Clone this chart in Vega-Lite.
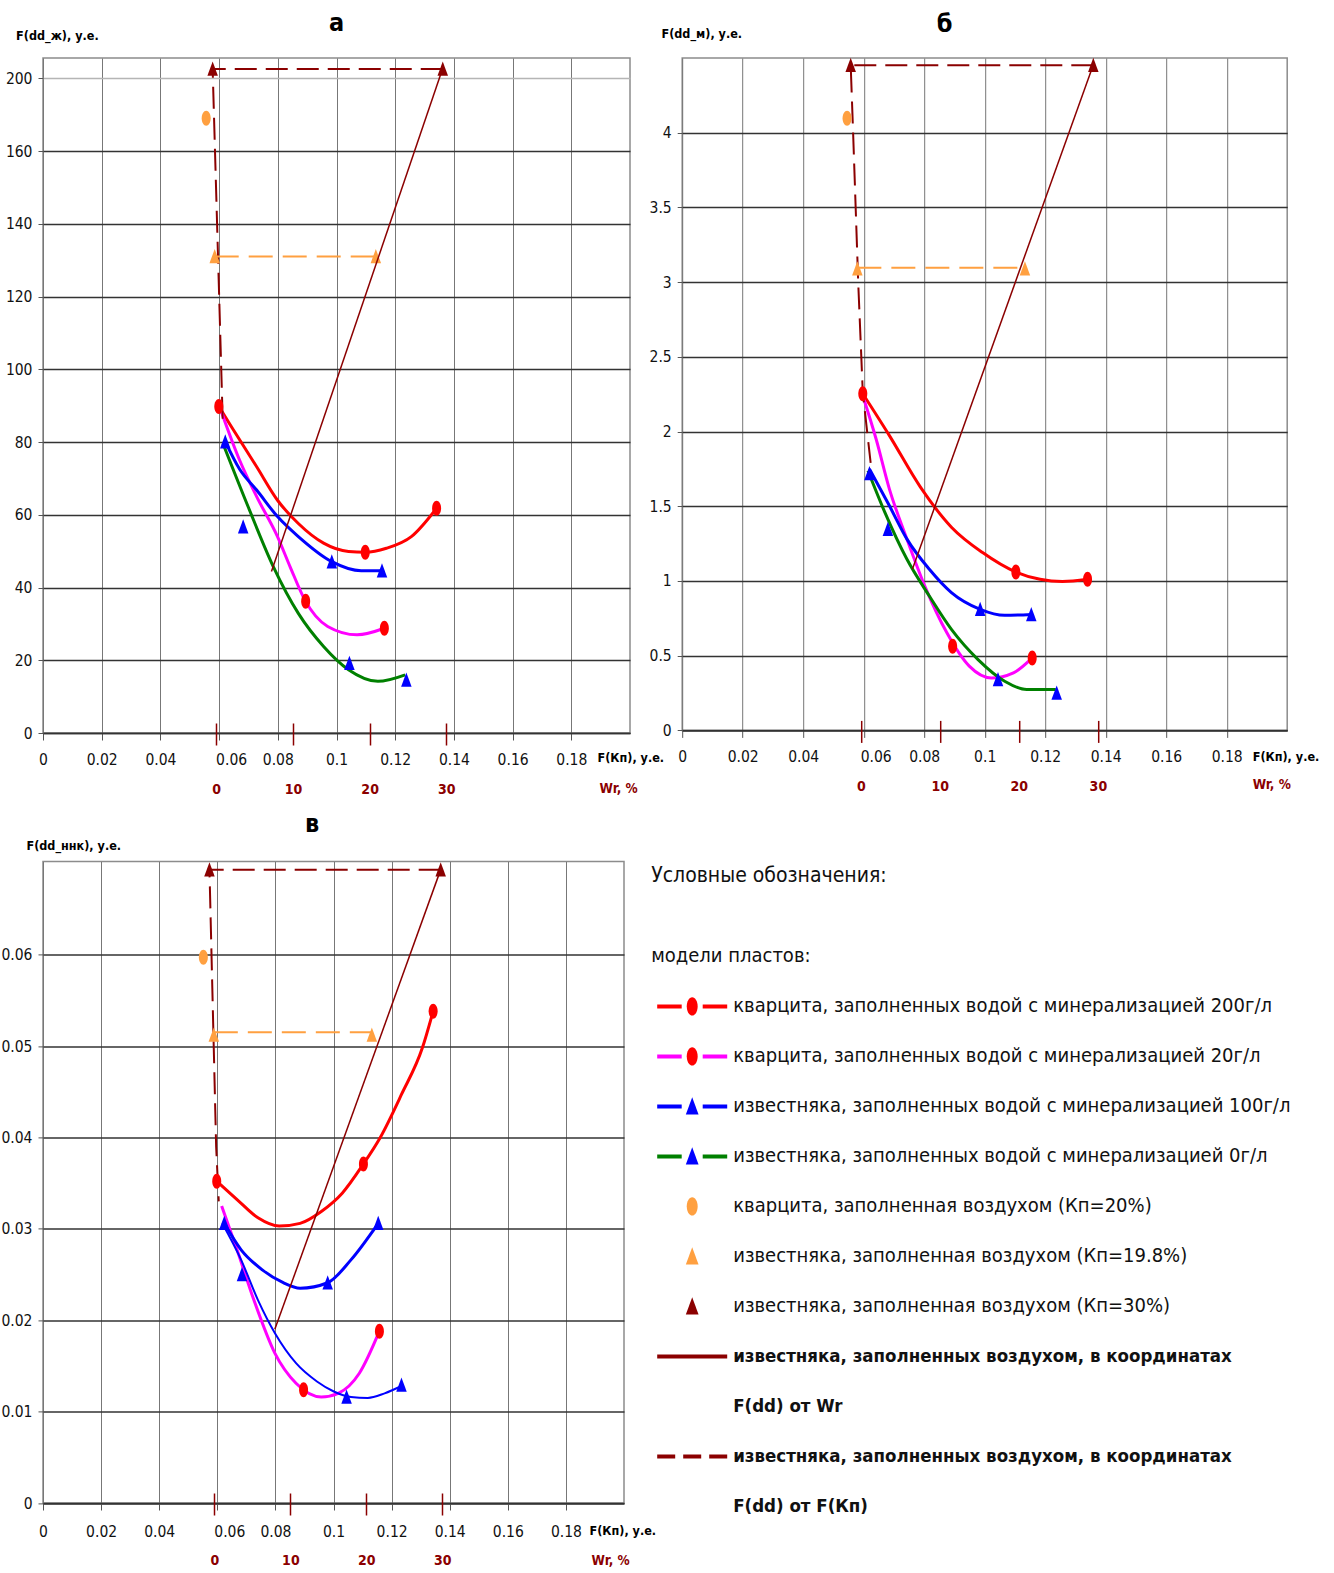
{
"$schema": "https://vega.github.io/schema/vega-lite/v6.json",
"background": "white",
"padding": {"left": 0, "top": 10, "right": 5, "bottom": 5},
"autosize": {"type": "pad"},
"columns": 2,
"bounds": "flush",
"align": "each",
"spacing": {"row": 128.4, "column": 52.2},
"config": {
  "font": "DejaVu Sans Condensed, sans-serif",
  "view": {"stroke": "#8c8c8c", "strokeWidth": 1.5},
  "legend": {"disable": true}
},
"datasets": {
  "curves": [
    {"panel":"a","series":"q200","kp":0.0599,"fdd":89.8},{"panel":"a","series":"q200","kp":0.0642,"fdd":84.2},{"panel":"a","series":"q200","kp":0.0728,"fdd":73.2},{"panel":"a","series":"q200","kp":0.0799,"fdd":64.0},{"panel":"a","series":"q200","kp":0.087,"fdd":57.6},{"panel":"a","series":"q200","kp":0.0956,"fdd":52.2},{"panel":"a","series":"q200","kp":0.1041,"fdd":49.9},{"panel":"a","series":"q200","kp":0.1098,"fdd":49.7},{"panel":"a","series":"q200","kp":0.117,"fdd":50.8},{"panel":"a","series":"q200","kp":0.1255,"fdd":54.0},{"panel":"a","series":"q200","kp":0.1341,"fdd":61.8},
    {"panel":"a","series":"q20","kp":0.0606,"fdd":88.7},{"panel":"a","series":"q20","kp":0.067,"fdd":75.0},{"panel":"a","series":"q20","kp":0.0728,"fdd":65.0},{"panel":"a","series":"q20","kp":0.0799,"fdd":54.0},{"panel":"a","series":"q20","kp":0.0842,"fdd":45.7},{"panel":"a","series":"q20","kp":0.0892,"fdd":36.6},{"panel":"a","series":"q20","kp":0.097,"fdd":29.3},{"panel":"a","series":"q20","kp":0.107,"fdd":27.0},{"panel":"a","series":"q20","kp":0.1163,"fdd":28.8},
    {"panel":"a","series":"l100","kp":0.0621,"fdd":80.1},{"panel":"a","series":"l100","kp":0.067,"fdd":72.5},{"panel":"a","series":"l100","kp":0.0728,"fdd":66.8},{"panel":"a","series":"l100","kp":0.0799,"fdd":59.5},{"panel":"a","series":"l100","kp":0.087,"fdd":54.0},{"panel":"a","series":"l100","kp":0.0984,"fdd":47.1},{"panel":"a","series":"l100","kp":0.1084,"fdd":44.6},{"panel":"a","series":"l100","kp":0.1155,"fdd":44.6},
    {"panel":"a","series":"l0","kp":0.0613,"fdd":79.6},{"panel":"a","series":"l0","kp":0.0699,"fdd":62.2},{"panel":"a","series":"l0","kp":0.0785,"fdd":45.7},{"panel":"a","series":"l0","kp":0.087,"fdd":32.9},{"panel":"a","series":"l0","kp":0.0956,"fdd":23.8},{"panel":"a","series":"l0","kp":0.1041,"fdd":17.4},{"panel":"a","series":"l0","kp":0.1141,"fdd":14.2},{"panel":"a","series":"l0","kp":0.1234,"fdd":16.0},
    {"panel":"b","series":"q200","kp":0.0597,"fdd":2.253},{"panel":"b","series":"q200","kp":0.0685,"fdd":1.973},{"panel":"b","series":"q200","kp":0.0787,"fdd":1.63},{"panel":"b","series":"q200","kp":0.089,"fdd":1.36},{"panel":"b","series":"q200","kp":0.0993,"fdd":1.19},{"panel":"b","series":"q200","kp":0.1103,"fdd":1.06},{"panel":"b","series":"q200","kp":0.1183,"fdd":1.011},{"panel":"b","series":"q200","kp":0.1257,"fdd":0.996},{"panel":"b","series":"q200","kp":0.134,"fdd":1.011},
    {"panel":"b","series":"q20","kp":0.0597,"fdd":2.24},{"panel":"b","series":"q20","kp":0.0641,"fdd":1.95},{"panel":"b","series":"q20","kp":0.0685,"fdd":1.615},{"panel":"b","series":"q20","kp":0.0743,"fdd":1.28},{"panel":"b","series":"q20","kp":0.0802,"fdd":0.966},{"panel":"b","series":"q20","kp":0.0875,"fdd":0.653},{"panel":"b","series":"q20","kp":0.0949,"fdd":0.43},{"panel":"b","series":"q20","kp":0.1022,"fdd":0.351},{"panel":"b","series":"q20","kp":0.1095,"fdd":0.385},{"panel":"b","series":"q20","kp":0.1157,"fdd":0.485},
    {"panel":"b","series":"l100","kp":0.0619,"fdd":1.749},{"panel":"b","series":"l100","kp":0.0685,"fdd":1.503},{"panel":"b","series":"l100","kp":0.0743,"fdd":1.28},{"panel":"b","series":"l100","kp":0.0817,"fdd":1.078},{"panel":"b","series":"l100","kp":0.089,"fdd":0.922},{"panel":"b","series":"l100","kp":0.0985,"fdd":0.81},{"panel":"b","series":"l100","kp":0.1066,"fdd":0.77},{"panel":"b","series":"l100","kp":0.1154,"fdd":0.776},
    {"panel":"b","series":"l0","kp":0.0614,"fdd":1.738},{"panel":"b","series":"l0","kp":0.067,"fdd":1.459},{"panel":"b","series":"l0","kp":0.0743,"fdd":1.145},{"panel":"b","series":"l0","kp":0.0817,"fdd":0.899},{"panel":"b","series":"l0","kp":0.089,"fdd":0.676},{"panel":"b","series":"l0","kp":0.0978,"fdd":0.474},{"panel":"b","series":"l0","kp":0.1066,"fdd":0.329},{"panel":"b","series":"l0","kp":0.1139,"fdd":0.273},{"panel":"b","series":"l0","kp":0.1235,"fdd":0.273},
    {"panel":"c","series":"q200","kp":0.0598,"fdd":0.0352},{"panel":"c","series":"q200","kp":0.0668,"fdd":0.0332},{"panel":"c","series":"q200","kp":0.074,"fdd":0.0312},{"panel":"c","series":"q200","kp":0.0813,"fdd":0.0303},{"panel":"c","series":"q200","kp":0.0885,"fdd":0.0306},{"panel":"c","series":"q200","kp":0.0958,"fdd":0.0319},{"panel":"c","series":"q200","kp":0.103,"fdd":0.0339},{"panel":"c","series":"q200","kp":0.1103,"fdd":0.0371},{"panel":"c","series":"q200","kp":0.1161,"fdd":0.04},{"panel":"c","series":"q200","kp":0.1234,"fdd":0.0447},{"panel":"c","series":"q200","kp":0.1306,"fdd":0.0498},{"panel":"c","series":"q200","kp":0.1343,"fdd":0.0538},
    {"panel":"c","series":"q20","kp":0.0615,"fdd":0.0325},{"panel":"c","series":"q20","kp":0.0668,"fdd":0.0277},{"panel":"c","series":"q20","kp":0.0726,"fdd":0.0222},{"panel":"c","series":"q20","kp":0.0798,"fdd":0.0164},{"panel":"c","series":"q20","kp":0.0871,"fdd":0.0131},{"panel":"c","series":"q20","kp":0.0958,"fdd":0.0116},{"panel":"c","series":"q20","kp":0.1016,"fdd":0.012},{"panel":"c","series":"q20","kp":0.1089,"fdd":0.0142},{"panel":"c","series":"q20","kp":0.1158,"fdd":0.0188},
    {"panel":"c","series":"l100","kp":0.0624,"fdd":0.0306},{"panel":"c","series":"l100","kp":0.0682,"fdd":0.0277},{"panel":"c","series":"l100","kp":0.0755,"fdd":0.0255},{"panel":"c","series":"l100","kp":0.0827,"fdd":0.0241},{"panel":"c","series":"l100","kp":0.0885,"fdd":0.0235},{"panel":"c","series":"l100","kp":0.098,"fdd":0.0241},{"panel":"c","series":"l100","kp":0.106,"fdd":0.0266},{"panel":"c","series":"l100","kp":0.1154,"fdd":0.0306},
    {"panel":"c","series":"l0","kp":0.0617,"fdd":0.0306},{"panel":"c","series":"l0","kp":0.0682,"fdd":0.0266},{"panel":"c","series":"l0","kp":0.074,"fdd":0.0222},{"panel":"c","series":"l0","kp":0.0798,"fdd":0.0186},{"panel":"c","series":"l0","kp":0.0871,"fdd":0.0153},{"panel":"c","series":"l0","kp":0.0943,"fdd":0.0133},{"panel":"c","series":"l0","kp":0.1001,"fdd":0.0122},{"panel":"c","series":"l0","kp":0.106,"fdd":0.0116},{"panel":"c","series":"l0","kp":0.1118,"fdd":0.0115},{"panel":"c","series":"l0","kp":0.1176,"fdd":0.012},{"panel":"c","series":"l0","kp":0.1234,"fdd":0.0128}
  ],
  "markers": [
    {"panel":"a","series":"q200","kp":0.0599,"fdd":89.8},{"panel":"a","series":"q200","kp":0.1098,"fdd":49.7},{"panel":"a","series":"q200","kp":0.1341,"fdd":61.8},
    {"panel":"a","series":"q20","kp":0.0895,"fdd":36.2},{"panel":"a","series":"q20","kp":0.1163,"fdd":28.8},
    {"panel":"a","series":"l100","kp":0.0621,"fdd":80.1},{"panel":"a","series":"l100","kp":0.0984,"fdd":47.1},{"panel":"a","series":"l100","kp":0.1155,"fdd":44.6},
    {"panel":"a","series":"l0","kp":0.0682,"fdd":56.7},{"panel":"a","series":"l0","kp":0.1044,"fdd":19.2},{"panel":"a","series":"l0","kp":0.1238,"fdd":14.6},
    {"panel":"a","series":"qair","kp":0.0556,"fdd":169.0},
    {"panel":"a","series":"lair198","kp":0.0585,"fdd":131},{"panel":"a","series":"lair198","kp":0.1134,"fdd":131},
    {"panel":"a","series":"lair30","kp":0.0578,"fdd":182.6},{"panel":"a","series":"lair30","kp":0.1362,"fdd":182.6},
    {"panel":"b","series":"q200","kp":0.0597,"fdd":2.253},{"panel":"b","series":"q200","kp":0.1103,"fdd":1.06},{"panel":"b","series":"q200","kp":0.134,"fdd":1.011},
    {"panel":"b","series":"q20","kp":0.0894,"fdd":0.564},{"panel":"b","series":"q20","kp":0.1157,"fdd":0.485},
    {"panel":"b","series":"l100","kp":0.0619,"fdd":1.72},{"panel":"b","series":"l100","kp":0.0985,"fdd":0.81},{"panel":"b","series":"l100","kp":0.1154,"fdd":0.776},
    {"panel":"b","series":"l0","kp":0.068,"fdd":1.347},{"panel":"b","series":"l0","kp":0.1044,"fdd":0.34},{"panel":"b","series":"l0","kp":0.1238,"fdd":0.25},
    {"panel":"b","series":"qair","kp":0.0545,"fdd":4.096},
    {"panel":"b","series":"lair198","kp":0.0579,"fdd":3.09},{"panel":"b","series":"lair198","kp":0.1133,"fdd":3.09},
    {"panel":"b","series":"lair30","kp":0.0557,"fdd":4.452},{"panel":"b","series":"lair30","kp":0.1359,"fdd":4.452},
    {"panel":"c","series":"q200","kp":0.0598,"fdd":0.0352},{"panel":"c","series":"q200","kp":0.1103,"fdd":0.0371},{"panel":"c","series":"q200","kp":0.1343,"fdd":0.0538},
    {"panel":"c","series":"q20","kp":0.0897,"fdd":0.0124},{"panel":"c","series":"q20","kp":0.1158,"fdd":0.0188},
    {"panel":"c","series":"l100","kp":0.0624,"fdd":0.0306},{"panel":"c","series":"l100","kp":0.098,"fdd":0.0241},{"panel":"c","series":"l100","kp":0.1154,"fdd":0.0306},
    {"panel":"c","series":"l0","kp":0.0685,"fdd":0.025},{"panel":"c","series":"l0","kp":0.1045,"fdd":0.0116},{"panel":"c","series":"l0","kp":0.1234,"fdd":0.0129},
    {"panel":"c","series":"qair","kp":0.0552,"fdd":0.0597},
    {"panel":"c","series":"lair198","kp":0.0588,"fdd":0.0512},{"panel":"c","series":"lair198","kp":0.1132,"fdd":0.0512},
    {"panel":"c","series":"lair30","kp":0.0573,"fdd":0.0693},{"panel":"c","series":"lair30","kp":0.1369,"fdd":0.0693}
  ],
  "paths": [
    {"panel":"a","series":"fkline","n":1,"kp":0.1362,"fdd":182.6},{"panel":"a","series":"fkline","n":2,"kp":0.0578,"fdd":182.6},{"panel":"a","series":"fkline","n":3,"kp":0.0613,"fdd":84.0},
    {"panel":"a","series":"lair198","n":1,"kp":0.0585,"fdd":131},{"panel":"a","series":"lair198","n":2,"kp":0.1134,"fdd":131},
    {"panel":"b","series":"fkline","n":1,"kp":0.1359,"fdd":4.452},{"panel":"b","series":"fkline","n":2,"kp":0.0557,"fdd":4.452},{"panel":"b","series":"fkline","n":3,"kp":0.0565,"fdd":4.0},{"panel":"b","series":"fkline","n":4,"kp":0.0582,"fdd":2.99},{"panel":"b","series":"fkline","n":5,"kp":0.0597,"fdd":2.26},{"panel":"b","series":"fkline","n":6,"kp":0.0623,"fdd":1.79},
    {"panel":"b","series":"lair198","n":1,"kp":0.0579,"fdd":3.097},{"panel":"b","series":"lair198","n":2,"kp":0.1133,"fdd":3.097},
    {"panel":"c","series":"fkline","n":1,"kp":0.1369,"fdd":0.0693},{"panel":"c","series":"fkline","n":2,"kp":0.0573,"fdd":0.0693},{"panel":"c","series":"fkline","n":3,"kp":0.0596,"fdd":0.039},{"panel":"c","series":"fkline","n":4,"kp":0.0605,"fdd":0.033},
    {"panel":"c","series":"lair198","n":1,"kp":0.0588,"fdd":0.0515},{"panel":"c","series":"lair198","n":2,"kp":0.1132,"fdd":0.0515}
  ],
  "wr": [
    {"panel":"a","wr":7.2,"fdd":44.4},{"panel":"a","wr":29.5,"fdd":182.6},
    {"panel":"b","wr":6.53,"fdd":1.078},{"panel":"b","wr":29.4,"fdd":4.452},
    {"panel":"c","wr":7.95,"fdd":0.019},{"panel":"c","wr":29.8,"fdd":0.0693}
  ],
  "legend": [
    {"row":1,"col":"head","text":"модели пластов:"},
    {"row":2,"col":"txt","text":"кварцита, заполненных водой с минерализацией 200г/л","series":"q200"},
    {"row":3,"col":"txt","text":"кварцита, заполненных водой с минерализацией 20г/л","series":"q20"},
    {"row":4,"col":"txt","text":"известняка, заполненных водой с минерализацией 100г/л","series":"l100"},
    {"row":5,"col":"txt","text":"известняка, заполненных водой с минерализацией 0г/л","series":"l0"},
    {"row":6,"col":"txt","text":"кварцита, заполненная воздухом (Кп=20%)","series":"qair"},
    {"row":7,"col":"txt","text":"известняка, заполненная воздухом (Кп=19.8%)","series":"lair198"},
    {"row":8,"col":"txt","text":"известняка, заполненная воздухом (Кп=30%)","series":"lair30"},
    {"row":9,"col":"txt","text":"известняка, заполненных воздухом, в координатах","series":"wrline"},
    {"row":10,"col":"txt","text":"F(dd) от Wr"},
    {"row":11,"col":"txt","text":"известняка, заполненных воздухом, в координатах","series":"fkline"},
    {"row":12,"col":"txt","text":"F(dd) от F(Кп)"}
  ]
},
"concat": [
  {
    "width": 587, "height": 675,
    "title": {"text": "а", "fontSize": 25, "fontWeight": "bold", "color": "#000000", "baseline": "alphabetic", "offset": 0, "dy": 27.4, "dx": 0},
    "layer": [
      {
        "encoding": {
          "x": {"field": "kp", "type": "quantitative", "scale": {"domain": [0, 0.2], "nice": false, "zero": false},
            "axis": {"title": "F(Кп), у.е.", "values": [0,0.02,0.04,0.06,0.08,0.1,0.12,0.14,0.16,0.18], "format": "~g", "grid": true, "gridColor": "#777777", "gridWidth": 1, "domainColor": "#333333", "domainWidth": 1.5, "tickColor": "#555555", "tickSize": 7, "labelFontSize": 15.5, "labelColor": "#111111", "labelPadding": 12, "labelOffset": {"condition": {"test": "abs(datum.value - 0.06) < 0.001", "value": 12}, "value": 0}, "labelFlush": false, "labelOverlap": false, "titleFontSize": 12.5, "titleFontWeight": "bold", "titleColor": "#000000", "titleAlign": "left", "titleBaseline": "middle", "titleX": 554, "titleY": 24}},
          "y": {"field": "fdd", "type": "quantitative", "scale": {"domain": [0, 185.6], "nice": false, "zero": false},
            "axis": {"title": "F(dd_ж), у.е.", "values": [0,20,40,60,80,100,120,140,160,180], "labelExpr": "datum.value == 180 ? '200' : datum.label", "grid": true, "gridColor": {"condition": {"test": "datum.value == 180", "value": "#b5b5b5"}, "value": "#333333"}, "gridWidth": 1.5, "domain": false, "tickColor": "#555555", "tickSize": 5, "labelFontSize": 15.5, "labelColor": "#111111", "labelPadding": 6, "labelOverlap": false, "labelFlush": false, "titleFontSize": 12.5, "titleFontWeight": "bold", "titleColor": "#000000", "titleAngle": 0, "titleAlign": "left", "titleBaseline": "alphabetic", "titleX": -27.4, "titleY": -19}}
        },
        "layer": [
          {"data": {"name": "curves"}, "transform": [{"filter": "datum.panel == 'a'"}],
           "mark": {"type": "line", "interpolate": "monotone", "strokeWidth": 3},
           "encoding": {"stroke": {"field": "series", "type": "nominal", "scale": {"domain": ["q200","q20","l100","l0"], "range": ["#ff0000","#ff00ff","#0000ff","#008000"]}, "legend": null}}},
          {"data": {"name": "paths"}, "transform": [{"filter": "datum.panel == 'a' && datum.series == 'fkline'"}],
           "mark": {"type": "line", "stroke": "#8b0000", "strokeWidth": 2, "strokeDash": [22, 9]},
           "encoding": {"order": {"field": "n", "type": "quantitative"}}},
          {"data": {"name": "paths"}, "transform": [{"filter": "datum.panel == 'a' && datum.series == 'lair198'"}],
           "mark": {"type": "line", "stroke": "#ffa040", "strokeWidth": 2, "strokeDash": [24, 10]},
           "encoding": {"order": {"field": "n", "type": "quantitative"}}},
          {"data": {"name": "markers"}, "transform": [{"filter": "datum.panel == 'a'"}],
           "mark": {"type": "point", "filled": true, "size": 225, "opacity": 1},
           "encoding": {
             "shape": {"field": "series", "type": "nominal", "scale": {"domain": ["q200","q20","l100","l0","qair","lair198","lair30"], "range": ["M0,-1A0.6,1,0,1,1,0,1A0.6,1,0,1,1,0,-1Z","M0,-1A0.6,1,0,1,1,0,1A0.6,1,0,1,1,0,-1Z","M0,-1L0.7,0.9L-0.7,0.9Z","M0,-1L0.7,0.9L-0.7,0.9Z","M0,-1A0.6,1,0,1,1,0,1A0.6,1,0,1,1,0,-1Z","M0,-1L0.7,0.9L-0.7,0.9Z","M0,-1L0.7,0.9L-0.7,0.9Z"]}, "legend": null},
             "fill": {"field": "series", "type": "nominal", "scale": {"domain": ["q200","q20","l100","l0","qair","lair198","lair30"], "range": ["#ff0000","#ff0000","#0000ff","#0000ff","#ffa040","#ffa040","#8b0000"]}, "legend": null}
           }}
        ]
      },
      {"data": {"name": "wr"}, "transform": [{"filter": "datum.panel == 'a'"}],
       "mark": {"type": "line", "stroke": "#8b0000", "strokeWidth": 1.5},
       "encoding": {
         "x": {"field": "wr", "type": "quantitative", "scale": {"domain": [-22.59, 53.95], "nice": false, "zero": false},
           "axis": {"title": "Wr, %", "values": [0,10,20,30], "format": "d", "orient": "bottom", "offset": -10, "domain": false, "grid": false, "tickColor": "#8b0000", "tickWidth": 1.5, "tickSize": 22, "labelColor": "#8b0000", "labelFontWeight": "bold", "labelFontSize": 14, "labelPadding": 37, "labelFlush": false, "labelOverlap": false, "titleColor": "#8b0000", "titleFontWeight": "bold", "titleFontSize": 13.5, "titleAlign": "left", "titleBaseline": "middle", "titleX": 556, "titleY": 65}},
         "y": {"field": "fdd", "type": "quantitative", "scale": {"domain": [0, 185.6], "nice": false, "zero": false}, "axis": null}
       }}
    ],
    "resolve": {"scale": {"x": "independent"}, "axis": {"x": "independent", "y": "independent"}}
  },
  {
    "width": 605, "height": 672.4,
    "title": {"text": "б", "fontSize": 25, "fontWeight": "bold", "color": "#000000", "baseline": "alphabetic", "offset": 0, "dy": 29.8, "dx": -40},
    "layer": [
      {
        "encoding": {
          "x": {"field": "kp", "type": "quantitative", "scale": {"domain": [0, 0.2], "nice": false, "zero": false},
            "axis": {"title": "F(Кп), у.е.", "values": [0,0.02,0.04,0.06,0.08,0.1,0.12,0.14,0.16,0.18], "format": "~g", "grid": true, "gridColor": "#777777", "gridWidth": 1, "domainColor": "#333333", "domainWidth": 1.5, "tickColor": "#555555", "tickSize": 7, "labelFontSize": 15.5, "labelColor": "#111111", "labelPadding": 12, "labelOffset": {"condition": {"test": "abs(datum.value - 0.06) < 0.001", "value": 12}, "value": 0}, "labelFlush": false, "labelOverlap": false, "titleFontSize": 12.5, "titleFontWeight": "bold", "titleColor": "#000000", "titleAlign": "left", "titleBaseline": "middle", "titleX": 570, "titleY": 26}},
          "y": {"field": "fdd", "type": "quantitative", "scale": {"domain": [0, 4.5], "nice": false, "zero": false},
            "axis": {"title": "F(dd_м), у.е.", "values": [0,0.5,1,1.5,2,2.5,3,3.5,4], "format": "~g", "grid": true, "gridColor": "#333333", "gridWidth": 1.5, "domain": false, "tickColor": "#555555", "tickSize": 5, "labelFontSize": 15.5, "labelColor": "#111111", "labelPadding": 6, "labelOverlap": false, "labelFlush": false, "titleFontSize": 12.5, "titleFontWeight": "bold", "titleColor": "#000000", "titleAngle": 0, "titleAlign": "left", "titleBaseline": "alphabetic", "titleX": -21.2, "titleY": -21}}
        },
        "layer": [
          {"data": {"name": "curves"}, "transform": [{"filter": "datum.panel == 'b'"}],
           "mark": {"type": "line", "interpolate": "monotone", "strokeWidth": 3},
           "encoding": {"stroke": {"field": "series", "type": "nominal", "scale": {"domain": ["q200","q20","l100","l0"], "range": ["#ff0000","#ff00ff","#0000ff","#008000"]}, "legend": null}}},
          {"data": {"name": "paths"}, "transform": [{"filter": "datum.panel == 'b' && datum.series == 'fkline'"}],
           "mark": {"type": "line", "stroke": "#8b0000", "strokeWidth": 2, "strokeDash": [22, 9]},
           "encoding": {"order": {"field": "n", "type": "quantitative"}}},
          {"data": {"name": "paths"}, "transform": [{"filter": "datum.panel == 'b' && datum.series == 'lair198'"}],
           "mark": {"type": "line", "stroke": "#ffa040", "strokeWidth": 2, "strokeDash": [24, 10]},
           "encoding": {"order": {"field": "n", "type": "quantitative"}}},
          {"data": {"name": "markers"}, "transform": [{"filter": "datum.panel == 'b'"}],
           "mark": {"type": "point", "filled": true, "size": 225, "opacity": 1},
           "encoding": {
             "shape": {"field": "series", "type": "nominal", "scale": {"domain": ["q200","q20","l100","l0","qair","lair198","lair30"], "range": ["M0,-1A0.6,1,0,1,1,0,1A0.6,1,0,1,1,0,-1Z","M0,-1A0.6,1,0,1,1,0,1A0.6,1,0,1,1,0,-1Z","M0,-1L0.7,0.9L-0.7,0.9Z","M0,-1L0.7,0.9L-0.7,0.9Z","M0,-1A0.6,1,0,1,1,0,1A0.6,1,0,1,1,0,-1Z","M0,-1L0.7,0.9L-0.7,0.9Z","M0,-1L0.7,0.9L-0.7,0.9Z"]}, "legend": null},
             "fill": {"field": "series", "type": "nominal", "scale": {"domain": ["q200","q20","l100","l0","qair","lair198","lair30"], "range": ["#ff0000","#ff0000","#0000ff","#0000ff","#ffa040","#ffa040","#8b0000"]}, "legend": null}
           }}
        ]
      },
      {"data": {"name": "wr"}, "transform": [{"filter": "datum.panel == 'b'"}],
       "mark": {"type": "line", "stroke": "#8b0000", "strokeWidth": 1.5},
       "encoding": {
         "x": {"field": "wr", "type": "quantitative", "scale": {"domain": [-22.59, 53.95], "nice": false, "zero": false},
           "axis": {"title": "Wr, %", "values": [0,10,20,30], "format": "d", "orient": "bottom", "offset": -10, "domain": false, "grid": false, "tickColor": "#8b0000", "tickWidth": 1.5, "tickSize": 22, "labelColor": "#8b0000", "labelFontWeight": "bold", "labelFontSize": 14, "labelPadding": 37, "labelFlush": false, "labelOverlap": false, "titleColor": "#8b0000", "titleFontWeight": "bold", "titleFontSize": 13.5, "titleAlign": "left", "titleBaseline": "middle", "titleX": 570, "titleY": 64}},
         "y": {"field": "fdd", "type": "quantitative", "scale": {"domain": [0, 4.5], "nice": false, "zero": false}, "axis": null}
       }}
    ],
    "resolve": {"scale": {"x": "independent"}, "axis": {"x": "independent", "y": "independent"}}
  },
  {
    "width": 581, "height": 641.6,
    "title": {"text": "в", "fontSize": 25, "fontWeight": "bold", "color": "#000000", "baseline": "alphabetic", "offset": 0, "dy": 17.6, "dx": -21.5},
    "layer": [
      {
        "encoding": {
          "x": {"field": "kp", "type": "quantitative", "scale": {"domain": [0, 0.2], "nice": false, "zero": false},
            "axis": {"title": "F(Кп), у.е.", "values": [0,0.02,0.04,0.06,0.08,0.1,0.12,0.14,0.16,0.18], "format": "~g", "grid": true, "gridColor": "#777777", "gridWidth": 1, "domainColor": "#333333", "domainWidth": 1.5, "tickColor": "#555555", "tickSize": 7, "labelFontSize": 15.5, "labelColor": "#111111", "labelPadding": 14, "labelOffset": {"condition": {"test": "abs(datum.value - 0.06) < 0.001", "value": 12}, "value": 0}, "labelFlush": false, "labelOverlap": false, "titleFontSize": 12.5, "titleFontWeight": "bold", "titleColor": "#000000", "titleAlign": "left", "titleBaseline": "middle", "titleX": 546, "titleY": 27}},
          "y": {"field": "fdd", "type": "quantitative", "scale": {"domain": [0, 0.0702], "nice": false, "zero": false},
            "axis": {"title": "F(dd_ннк), у.е.", "values": [0,0.01,0.02,0.03,0.04,0.05,0.06], "format": "~g", "grid": true, "gridColor": "#333333", "gridWidth": 1.5, "domain": false, "tickColor": "#555555", "tickSize": 5, "labelFontSize": 15.5, "labelColor": "#111111", "labelPadding": 6, "labelOverlap": false, "labelFlush": false, "titleFontSize": 12.5, "titleFontWeight": "bold", "titleColor": "#000000", "titleAngle": 0, "titleAlign": "left", "titleBaseline": "alphabetic", "titleX": -17, "titleY": -12}}
        },
        "layer": [
          {"data": {"name": "curves"}, "transform": [{"filter": "datum.panel == 'c' && datum.series != 'l0'"}],
           "mark": {"type": "line", "interpolate": "monotone", "strokeWidth": 3},
           "encoding": {"stroke": {"field": "series", "type": "nominal", "scale": {"domain": ["q200","q20","l100","l0"], "range": ["#ff0000","#ff00ff","#0000ff","#008000"]}, "legend": null}}},
          {"data": {"name": "curves"}, "transform": [{"filter": "datum.panel == 'c' && datum.series == 'l0'"}],
           "mark": {"type": "line", "interpolate": "monotone", "strokeWidth": 2, "stroke": "#0000ff"}},
          {"data": {"name": "paths"}, "transform": [{"filter": "datum.panel == 'c' && datum.series == 'fkline'"}],
           "mark": {"type": "line", "stroke": "#8b0000", "strokeWidth": 2, "strokeDash": [22, 9]},
           "encoding": {"order": {"field": "n", "type": "quantitative"}}},
          {"data": {"name": "paths"}, "transform": [{"filter": "datum.panel == 'c' && datum.series == 'lair198'"}],
           "mark": {"type": "line", "stroke": "#ffa040", "strokeWidth": 2, "strokeDash": [24, 10]},
           "encoding": {"order": {"field": "n", "type": "quantitative"}}},
          {"data": {"name": "markers"}, "transform": [{"filter": "datum.panel == 'c'"}],
           "mark": {"type": "point", "filled": true, "size": 225, "opacity": 1},
           "encoding": {
             "shape": {"field": "series", "type": "nominal", "scale": {"domain": ["q200","q20","l100","l0","qair","lair198","lair30"], "range": ["M0,-1A0.6,1,0,1,1,0,1A0.6,1,0,1,1,0,-1Z","M0,-1A0.6,1,0,1,1,0,1A0.6,1,0,1,1,0,-1Z","M0,-1L0.7,0.9L-0.7,0.9Z","M0,-1L0.7,0.9L-0.7,0.9Z","M0,-1A0.6,1,0,1,1,0,1A0.6,1,0,1,1,0,-1Z","M0,-1L0.7,0.9L-0.7,0.9Z","M0,-1L0.7,0.9L-0.7,0.9Z"]}, "legend": null},
             "fill": {"field": "series", "type": "nominal", "scale": {"domain": ["q200","q20","l100","l0","qair","lair198","lair30"], "range": ["#ff0000","#ff0000","#0000ff","#0000ff","#ffa040","#ffa040","#8b0000"]}, "legend": null}
           }}
        ]
      },
      {"data": {"name": "wr"}, "transform": [{"filter": "datum.panel == 'c'"}],
       "mark": {"type": "line", "stroke": "#8b0000", "strokeWidth": 1.5},
       "encoding": {
         "x": {"field": "wr", "type": "quantitative", "scale": {"domain": [-22.59, 53.95], "nice": false, "zero": false},
           "axis": {"title": "Wr, %", "values": [0,10,20,30], "format": "d", "orient": "bottom", "offset": -10, "domain": false, "grid": false, "tickColor": "#8b0000", "tickWidth": 1.5, "tickSize": 22, "labelColor": "#8b0000", "labelFontWeight": "bold", "labelFontSize": 14, "labelPadding": 38, "labelFlush": false, "labelOverlap": false, "titleColor": "#8b0000", "titleFontWeight": "bold", "titleFontSize": 13.5, "titleAlign": "left", "titleBaseline": "middle", "titleX": 548, "titleY": 67}},
         "y": {"field": "fdd", "type": "quantitative", "scale": {"domain": [0, 0.0702], "nice": false, "zero": false}, "axis": null}
       }}
    ],
    "resolve": {"scale": {"x": "independent"}, "axis": {"x": "independent", "y": "independent"}}
  },
  {
    "width": 605, "height": 645,
    "view": {"stroke": null},
    "title": {"text": "Условные обозначения:", "anchor": "start", "frame": "group", "dx": -31, "dy": 23, "offset": -13, "baseline": "middle", "fontSize": 21, "fontWeight": "normal", "color": "#111111"},
    "data": {"name": "legend"},
    "encoding": {
      "y": {"field": "row", "type": "ordinal", "scale": {"type": "point", "domain": [1,2,3,4,5,6,7,8,9,10,11,12], "range": [95, 645], "padding": 0}, "axis": null}
    },
    "layer": [
      {"transform": [{"filter": "datum.row <= 8"}],
       "mark": {"type": "text", "align": "left", "baseline": "middle", "fontSize": 20, "color": "#111111"},
       "encoding": {"x": {"field": "col", "type": "nominal", "scale": {"type": "point", "domain": ["head","sym","txt"], "range": [-31, 51], "padding": 0}, "axis": null}, "text": {"field": "text"}}},
      {"transform": [{"filter": "datum.row >= 9"}],
       "mark": {"type": "text", "align": "left", "baseline": "middle", "fontSize": 18.5, "fontWeight": "bold", "color": "#111111"},
       "encoding": {"x": {"field": "col", "type": "nominal", "scale": {"type": "point", "domain": ["head","sym","txt"], "range": [-31, 51], "padding": 0}, "axis": null}, "text": {"field": "text"}}},
      {"transform": [{"filter": "indexof(['q200','q20','l100','l0'], datum.series) >= 0"}],
       "mark": {"type": "point", "shape": "M-1,0H-0.3M0.3,0H1", "size": 4900, "filled": false, "strokeWidth": 4, "opacity": 1},
       "encoding": {"x": {"datum": "sym", "type": "nominal", "scale": {"type": "point", "domain": ["head","sym","txt"], "range": [-31, 51], "padding": 0}, "axis": null},
         "stroke": {"field": "series", "type": "nominal", "scale": {"domain": ["q200","q20","l100","l0"], "range": ["#ff0000","#ff00ff","#0000ff","#008000"]}, "legend": null}}},
      {"transform": [{"filter": "datum.series == 'wrline'"}],
       "mark": {"type": "point", "shape": "M-1,0H1", "size": 4900, "filled": false, "stroke": "#8b0000", "strokeWidth": 4, "opacity": 1},
       "encoding": {"x": {"datum": "sym", "type": "nominal", "scale": {"type": "point", "domain": ["head","sym","txt"], "range": [-31, 51], "padding": 0}, "axis": null}}},
      {"transform": [{"filter": "datum.series == 'fkline'"}],
       "mark": {"type": "point", "shape": "M-1,0H1", "size": 4900, "filled": false, "stroke": "#8b0000", "strokeWidth": 4, "strokeDash": [18, 8], "opacity": 1},
       "encoding": {"x": {"datum": "sym", "type": "nominal", "scale": {"type": "point", "domain": ["head","sym","txt"], "range": [-31, 51], "padding": 0}, "axis": null}}},
      {"transform": [{"filter": "indexof(['q200','q20','l100','l0','qair','lair198','lair30'], datum.series) >= 0"}],
       "mark": {"type": "point", "filled": true, "size": 330, "opacity": 1},
       "encoding": {"x": {"datum": "sym", "type": "nominal", "scale": {"type": "point", "domain": ["head","sym","txt"], "range": [-31, 51], "padding": 0}, "axis": null},
         "shape": {"field": "series", "type": "nominal", "scale": {"domain": ["q200","q20","l100","l0","qair","lair198","lair30"], "range": ["M0,-1A0.6,1,0,1,1,0,1A0.6,1,0,1,1,0,-1Z","M0,-1A0.6,1,0,1,1,0,1A0.6,1,0,1,1,0,-1Z","M0,-1L0.7,0.9L-0.7,0.9Z","M0,-1L0.7,0.9L-0.7,0.9Z","M0,-1A0.6,1,0,1,1,0,1A0.6,1,0,1,1,0,-1Z","M0,-1L0.7,0.9L-0.7,0.9Z","M0,-1L0.7,0.9L-0.7,0.9Z"]}, "legend": null},
         "fill": {"field": "series", "type": "nominal", "scale": {"domain": ["q200","q20","l100","l0","qair","lair198","lair30"], "range": ["#ff0000","#ff0000","#0000ff","#0000ff","#ffa040","#ffa040","#8b0000"]}, "legend": null}}}
    ]
  }
]
}
